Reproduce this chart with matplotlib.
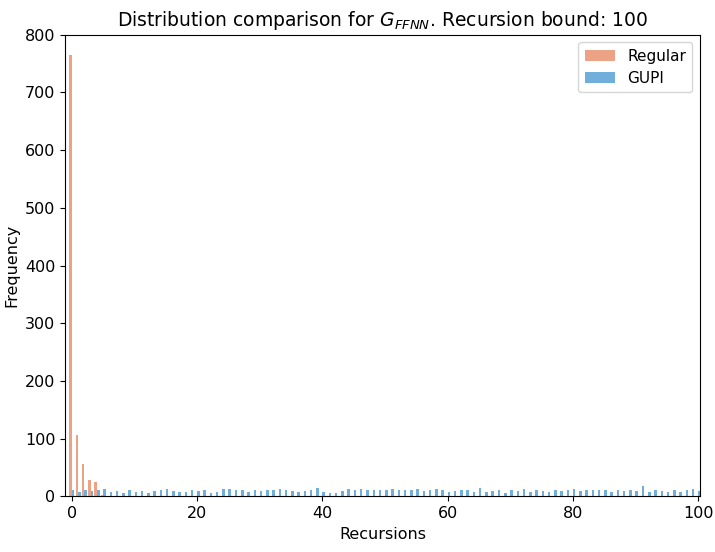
import numpy as np
import matplotlib
matplotlib.use("Agg")
import matplotlib.pyplot as plt

# recursion counts 0..100
recursions = list(range(0, 101))

regular = [765, 107, 56, 28, 25, 2, 1, 1, 0, 1] + [0] * 91

gupi = [10, 8, 10, 9, 11, 12, 8, 9, 6, 10,
        8, 9, 6, 9, 10, 13, 9, 7, 8, 10,
        9, 11, 6, 8, 13, 12, 11, 10, 8, 10,
        9, 11, 10, 12, 10, 9, 8, 9, 10, 14,
        7, 5, 6, 9, 12, 11, 12, 10, 11, 10,
        11, 12, 10, 11, 10, 12, 9, 11, 13, 10,
        8, 9, 10, 11, 8, 14, 7, 9, 10, 6,
        10, 9, 12, 8, 11, 9, 8, 10, 9, 10,
        12, 9, 10, 11, 10, 11, 8, 10, 9, 10,
        9, 17, 8, 10, 9, 7, 10, 8, 11, 13,
        9]

labels = ["Regular", "GUPI"]
colors = ["#ECA284", "#70AEDB"]

fig = plt.figure(figsize=(7.15, 5.52), dpi=100)
ax = fig.add_axes([0.091, 0.101, 0.888, 0.836])

bins = np.arange(-0.5, 101.5, 1)
ax.hist([recursions, recursions], bins=bins, weights=[regular, gupi],
        color=colors, label=labels)

ax.set_xlim(-1.1, 100.3)
ax.set_ylim(0, 800)
ax.set_xticks([0, 20, 40, 60, 80, 100])
ax.tick_params(labelsize=11.5)
ax.set_xlabel("Recursions", fontsize=11.5)
ax.set_ylabel("Frequency", fontsize=11.5)
ax.set_title("Distribution comparison for $G_{FFNN}$. Recursion bound: 100", fontsize=13.5)
ax.legend(fontsize=11, loc="upper right")

fig.savefig("out.png", dpi=100)
